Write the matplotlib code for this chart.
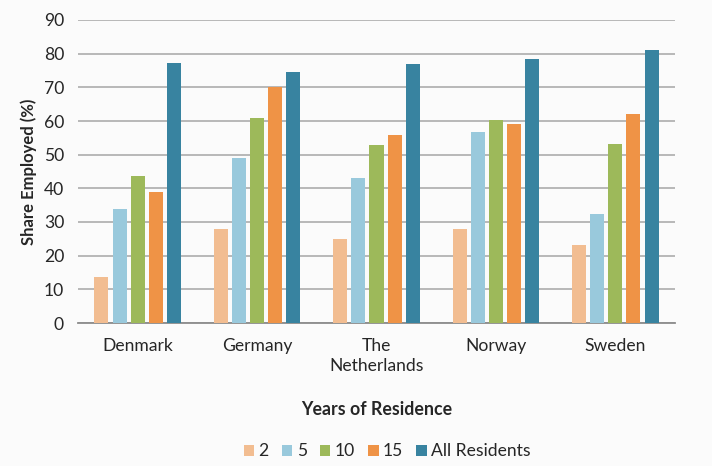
import matplotlib
matplotlib.use('Agg')
import matplotlib.pyplot as plt
import numpy as np

plt.rcParams['font.family'] = ['Lato', 'DejaVu Sans']

# data
countries = ['Denmark', 'Germany', 'The\nNetherlands', 'Norway', 'Sweden']
series_names = ['2', '5', '10', '15', 'All Residents']
yrs_2 = [13.7, 27.9, 25.0, 27.9, 23.2]
yrs_5 = [33.9, 49.1, 43.1, 56.8, 32.4]
yrs_10 = [43.7, 61.0, 52.9, 60.4, 53.2]
yrs_15 = [38.9, 70.1, 55.9, 59.2, 62.1]
all_res = [77.3, 74.6, 77.0, 78.5, 81.2]
colors = ['#f2bd91', '#99c9dc', '#9db95a', '#ef9346', '#3883a0']

series = [yrs_2, yrs_5, yrs_10, yrs_15, all_res]

fig = plt.figure(figsize=(7.12, 4.66), dpi=100, facecolor='#fbfbfb')
ax = fig.add_axes([78/712, 1-323/466, 597/712, 303/466])
ax.set_facecolor('#fbfbfb')

x = np.arange(len(countries))
pitch = 0.152
width = 0.118
for i, (vals, name, c) in enumerate(zip(series, series_names, colors)):
    ax.bar(x + (i - 2) * pitch, vals, width, color=c, label=name, zorder=3)

ax.set_xlim(-0.5, len(countries) - 0.5)
ax.set_ylim(0, 90)
ax.set_yticks(range(0, 91, 10))
ax.yaxis.grid(True, color='#a6a6a6', linewidth=1.1, zorder=0)
ax.set_xticks(x)
ax.set_xticklabels(countries, fontsize=12.6, color='#262626', linespacing=1.25)
ax.tick_params(axis='both', length=0, labelsize=12.6, colors='#262626')
ax.tick_params(axis='x', pad=11)
ax.tick_params(axis='y', pad=10)
for s in ['top', 'right', 'left']:
    ax.spines[s].set_visible(False)
ax.spines['bottom'].set_color('#8c8c8c')
ax.spines['bottom'].set_linewidth(1.3)

ax.set_ylabel('Share Employed (%)', fontsize=12, fontweight='bold', color='#262626', labelpad=5)
ax.set_xlabel('Years of Residence', fontsize=12.8, fontweight='bold', color='#262626', labelpad=20)

ax.legend(loc='upper center', bbox_to_anchor=(0.518, -0.345), ncol=5, frameon=False,
          fontsize=12.6, handlelength=0.6, handleheight=0.6, handletextpad=0.25,
          columnspacing=0.75, labelcolor='#262626')

fig.savefig('out.png', dpi=100, facecolor=fig.get_facecolor())
